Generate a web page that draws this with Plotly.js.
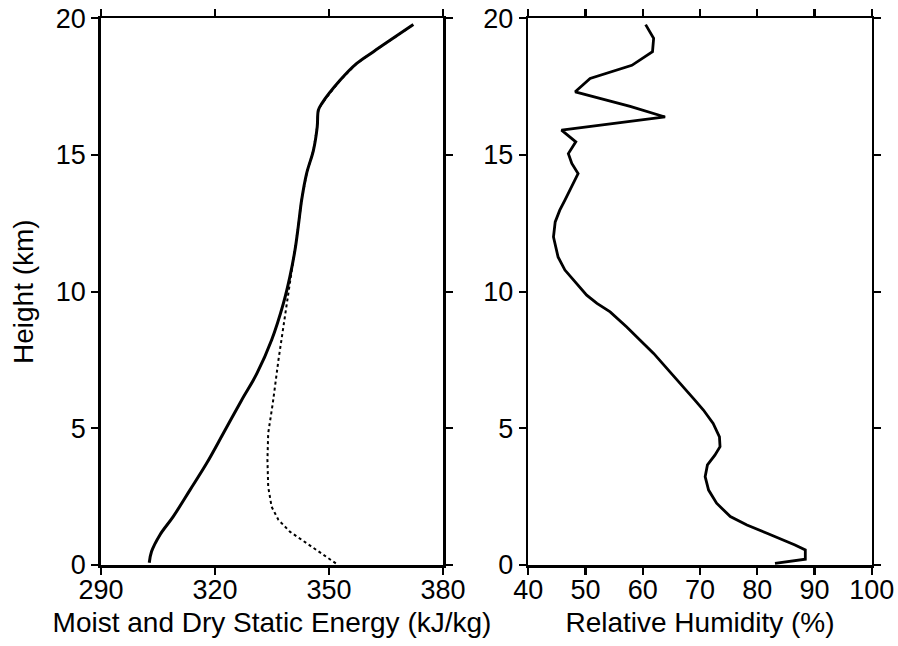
<!DOCTYPE html>
<html>
<head>
<meta charset="utf-8">
<script src="https://cdn.plot.ly/plotly-3.0.1.min.js"></script>
<style>html,body{margin:0;padding:0;background:#fff;}#chart{width:898px;height:646px;}</style>
</head>
<body>
<div id="chart"></div>
<script>
// Moist static energy (solid) profile
const mseHeight = [0.08, 0.49, 1.1, 1.77, 2.74, 3.72, 4.82, 6.03, 7.0, 8.23, 9.57, 10.54, 11.52, 12.37, 13.35, 14.32, 15.17, 16.03, 16.64, 16.88, 17.73, 18.35, 18.78, 19.77];
const mseValue  = [302.7, 303.3, 305.5, 309.0, 313.4, 317.8, 322.2, 327.0, 331.0, 334.9, 338.0, 339.7, 341.05, 341.9, 342.8, 344.1, 345.9, 346.9, 347.2, 348.1, 352.9, 357.3, 361.7, 372.2];

// Dry static energy (dotted) profile
const dseHeight = [0.06, 0.37, 0.79, 1.22, 1.65, 2.13, 2.86, 3.84, 4.82, 5.91, 7.5, 8.71, 9.81, 10.66, 11.52, 12.37, 13.35, 14.32, 15.17, 16.03, 16.64, 16.88, 17.73, 18.35, 18.78, 19.77];
const dseValue  = [351.8, 348.5, 344.1, 339.7, 336.7, 334.9, 334.0, 333.8, 334.0, 335.2, 336.7, 338.0, 339.3, 340.2, 341.05, 341.9, 342.8, 344.1, 345.9, 346.9, 347.2, 348.1, 352.9, 357.3, 361.7, 372.2];

// Relative humidity profile
const rhHeight = [0.06, 0.21, 0.55, 0.73, 1.16, 1.46, 1.77, 2.26, 2.74, 3.23, 3.66, 4.02, 4.33, 4.69, 5.18, 5.67, 6.03, 6.64, 7.74, 8.23, 8.71, 9.26, 9.57, 9.87, 10.30, 10.79, 11.27, 12.0, 12.55, 12.98, 13.35, 14.32, 14.69, 15.05, 15.48, 15.91, 16.39, 16.78, 17.31, 17.80, 18.28, 18.78, 19.27, 19.77];
const rhValue  = [83.1, 88.4, 88.4, 86.6, 81.7, 78.2, 75.3, 72.9, 71.5, 70.9, 71.3, 72.6, 73.5, 73.4, 72.3, 70.6, 69.1, 66.5, 61.9, 59.5, 57.2, 54.3, 52.0, 50.2, 48.5, 46.4, 45.2, 44.4, 44.7, 45.5, 46.4, 48.7, 47.6, 47.0, 48.3, 45.8, 63.9, 57.8, 48.2, 50.8, 58.1, 61.7, 61.9, 60.5];

const energyTicks = [290, 320, 350, 380];
const rhTicks = [40, 50, 60, 70, 80, 90, 100];
const heightTicks = [0, 5, 10, 15, 20];

const traces = [
  {x: dseValue, y: dseHeight, xaxis: 'x', yaxis: 'y', mode: 'lines', line: {color: '#000', width: 2, dash: 'dot'}, hoverinfo: 'skip'},
  {x: mseValue, y: mseHeight, xaxis: 'x', yaxis: 'y', mode: 'lines', line: {color: '#000', width: 3, shape: 'spline', smoothing: 1}, hoverinfo: 'skip'},
  {x: rhValue, y: rhHeight, xaxis: 'x2', yaxis: 'y2', mode: 'lines', line: {color: '#000', width: 2.8}, hoverinfo: 'skip'}
];

const tickFont = {family: 'Liberation Sans, Arial, sans-serif', size: 27, color: '#000'};
const titleFont = {family: 'Liberation Sans, Arial, sans-serif', size: 28, color: '#000'};
const axBase = {
  showgrid: false, zeroline: false, showline: true, linecolor: '#000', linewidth: 2.7,
  ticks: 'outside', ticklen: 7, tickwidth: 2.2, tickcolor: '#000', mirror: 'ticks',
  tickfont: tickFont, fixedrange: true
};

const layout = {
  width: 898, height: 646,
  margin: {l: 0, r: 0, t: 0, b: 0},
  paper_bgcolor: '#fff', plot_bgcolor: '#fff',
  showlegend: false,
  font: tickFont,
  xaxis: Object.assign({}, axBase, {domain: [101/898, 443/898], range: [290, 380], tickvals: energyTicks, ticktext: energyTicks.map(String), anchor: 'y',
    ticklabelstandoff: -8,
    title: {text: 'Moist and Dry Static Energy (kJ/kg)', font: titleFont, standoff: 9}}),
  yaxis: Object.assign({}, axBase, {domain: [1 - 565/646, 1 - 18.3/646], range: [0, 20], tickvals: heightTicks, ticktext: heightTicks.map(String), anchor: 'x',
    title: {text: 'Height (km)', font: titleFont, standoff: 14}}),
  xaxis2: Object.assign({}, axBase, {domain: [528.3/898, 871.7/898], range: [40, 100], tickvals: rhTicks, ticktext: rhTicks.map(String), anchor: 'y2',
    ticklabelstandoff: -8,
    title: {text: 'Relative Humidity (%)', font: titleFont, standoff: 9}}),
  yaxis2: Object.assign({}, axBase, {domain: [1 - 565/646, 1 - 18.3/646], range: [0, 20], tickvals: heightTicks, ticktext: heightTicks.map(String), anchor: 'x2'})
};

Plotly.newPlot('chart', traces, layout, {staticPlot: true, displayModeBar: false});
</script>
</body>
</html>
